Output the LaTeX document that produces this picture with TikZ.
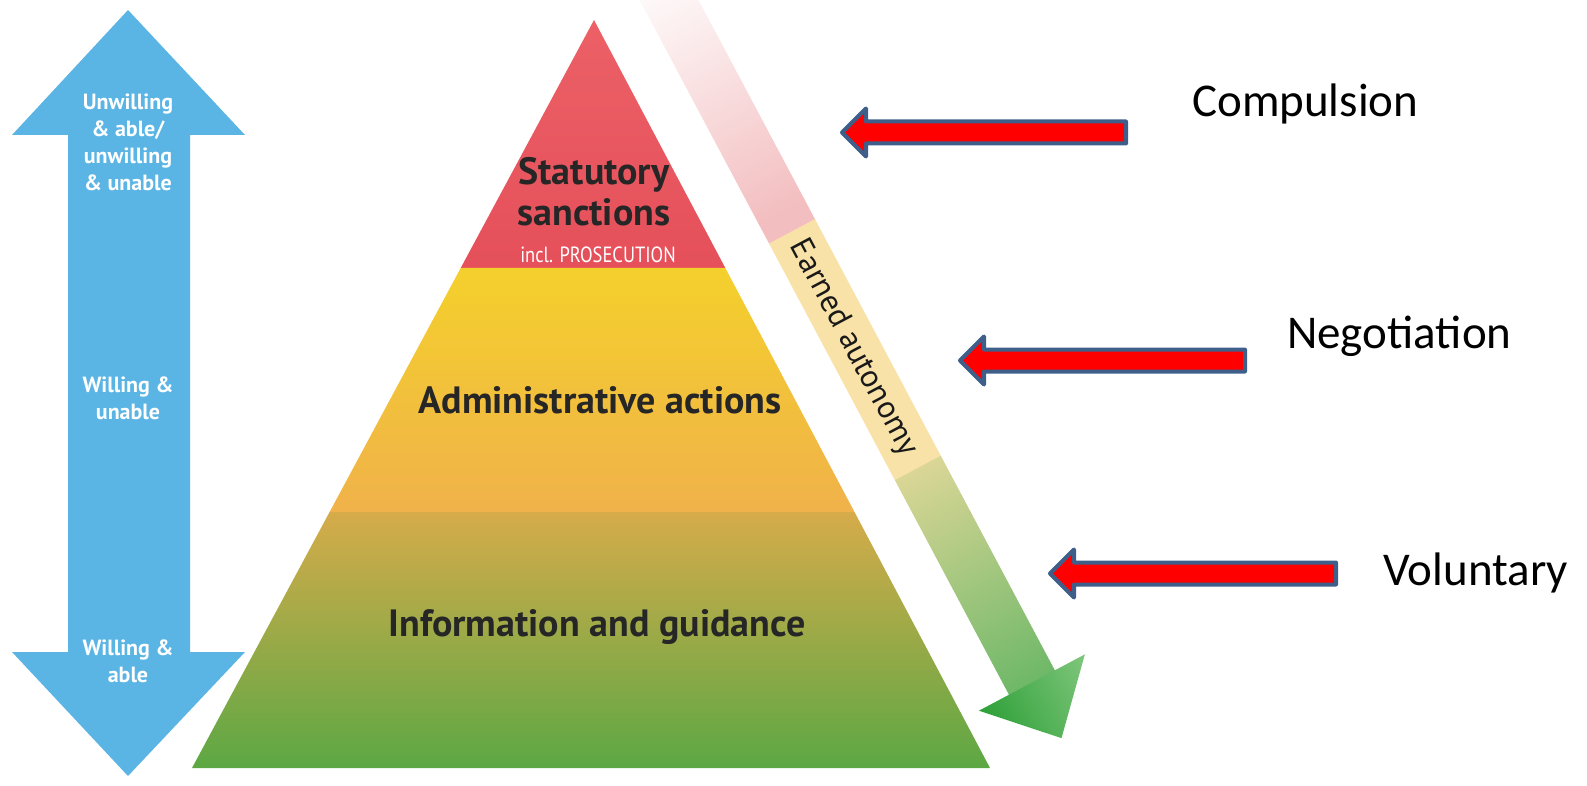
\documentclass[tikz,border=0pt]{standalone}
\usepackage{fontspec}
\setmainfont{Carlito}
\newfontfamily\pyrfont{PT Sans}
\newfontfamily\narrowfont[FakeStretch=0.84]{PT Sans}
\usetikzlibrary{positioning}
\definecolor{skyblue}{RGB}{90,180,228}
\definecolor{redtop}{RGB}{236,96,102}
\definecolor{redbot}{RGB}{229,80,90}
\definecolor{yeltop}{RGB}{244,208,44}
\definecolor{yelbot}{RGB}{240,178,74}
\definecolor{grntop}{RGB}{214,171,74}
\definecolor{grnmid}{RGB}{180,167,66}
\definecolor{grnbot}{RGB}{92,168,68}
\definecolor{bandpink}{RGB}{243,190,192}
\definecolor{bandtan}{RGB}{248,226,168}
\definecolor{bandolive}{RGB}{218,214,150}
\definecolor{bandgreen}{RGB}{110,184,104}
\definecolor{headlight}{RGB}{128,198,124}
\definecolor{headdark}{RGB}{46,160,56}
\definecolor{arrowblue}{RGB}{62,95,138}

\begin{document}
\begin{tikzpicture}[x=1pt,y=-1pt,
  pyrtext/.style={font=\pyrfont\bfseries\fontsize{38}{41}\selectfont, text=black!85, align=center, inner sep=0pt},
  bluetext/.style={font=\pyrfont\bfseries\fontsize{22}{27}\selectfont, text=white, align=center, inner sep=0pt},
  caption/.style={font=\fontsize{47}{56}\selectfont, anchor=base west, inner sep=0pt},
  redarrow/.style={fill=red, draw=arrowblue, line width=4pt, line join=round}]
\useasboundingbox (0,0) rectangle (1587,786);
\clip (0,0) rectangle (1587,786);

% blue double arrow
\fill[skyblue] (128,10)--(245,135)--(190,135)--(190,652)--(245,652)--(128,776)
  --(12,652)--(68,652)--(68,135)--(12,135)--cycle;
\node[bluetext] (unwilling) at (128,142) {Unwilling\\\& able/\\unwilling\\\& unable};
\node[bluetext] (unable) at (128,398) {Willing \&\\unable};
\node[bluetext] (able) at (128,661) {Willing \&\\able};

% pyramid
\shade[top color=redtop, bottom color=redbot] (594,20)--(725.3,268)--(460.7,268)--cycle;
\shade[top color=yeltop, bottom color=yelbot] (460.7,268)--(725.3,268)--(854.5,512)--(329.6,512)--cycle;
\shade[top color=grntop, middle color=grnmid, bottom color=grnbot] (329.6,512)--(854.5,512)--(990,768)--(192,768)--cycle;
\node[pyrtext] (statutory) at (594,192) {Statutory\\sanctions};
\node[font=\narrowfont\fontsize{22}{24}\selectfont, text=white, inner sep=0pt] (prosecution) at (598,255) {incl. PROSECUTION};
\node[pyrtext] (admin) at (600,400) {Administrative actions};
\node[pyrtext] (info) at (597,627) {Information and guidance};

% earned autonomy band
\begin{scope}[transform canvas={shift={(669,0)},rotate=-62}]
\shade[left color=white, right color=bandpink] (-40,-26) rectangle (240,26);
\fill[bandpink] (239,-26) rectangle (263,26);
\fill[bandtan] (262,-26) rectangle (531,26);
\shade[left color=bandolive, right color=bandgreen] (530,-26) rectangle (774,26);
\shade[top color=headlight, bottom color=headdark] (773,-60)--(836,0)--(773,60)--cycle;
\end{scope}
\node[font=\pyrfont\fontsize{32}{34}\selectfont, text=black!90, rotate=-62, inner sep=0pt] (earned) at (853,348) {Earned autonomy};

% red arrows
\foreach \tx/\cy/\rx in {842/132.5/1126, 960/360.5/1245, 1050/573.5/1336}
  \draw[redarrow] (\tx,\cy)--(\tx+24,\cy-24)--(\tx+24,\cy-11)--(\rx,\cy-11)
    --(\rx,\cy+11)--(\tx+24,\cy+11)--(\tx+24,\cy+24)--cycle;

\node[caption] (compulsion) at (1192,117) {Compulsion};
\node[caption] (negotiation) at (1287,348) {Negotiation};
\node[caption] (voluntary) at (1383,585) {Voluntary};
\end{tikzpicture}
\end{document}
